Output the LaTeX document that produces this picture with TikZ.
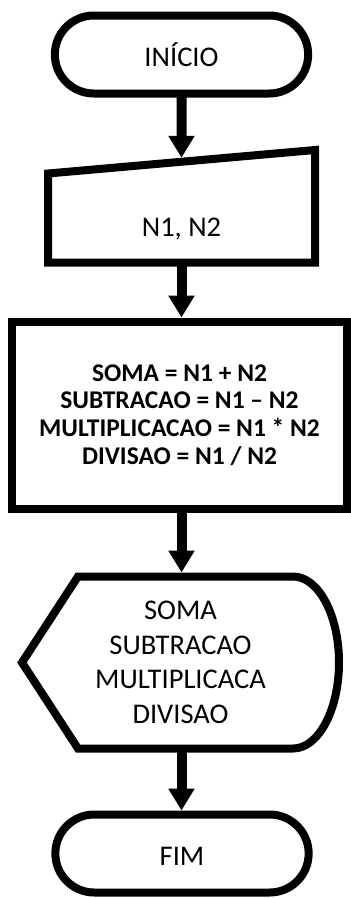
\documentclass[tikz,border=0pt]{standalone}
\usepackage{fontspec}
\setmainfont{Carlito}
\usetikzlibrary{arrows.meta, positioning, shapes.misc, calc}
\tikzset{
  terminal/.style = {rounded rectangle, draw, line width=8pt, outer sep=0pt,
                     minimum width=260pt, minimum height=78pt,
                     text height=24pt, text depth=0pt},
  inputbox/.style = {rectangle, outer sep=0pt, minimum width=267pt,
                     minimum height=89pt, text height=41pt},
  process/.style  = {rectangle, draw, line width=8pt, outer sep=0pt,
                     minimum width=335pt, minimum height=187pt, align=center,
                     font=\bfseries\fontsize{25.5}{27.8}\selectfont},
  display/.style  = {rectangle, outer sep=0pt, minimum width=317pt,
                     minimum height=172pt, align=center},
  outline/.style  = {line width=8pt, line join=miter},
  flow/.style     = {-{Triangle[width=25pt, length=22pt]}, line width=10pt,
                     shorten >=4pt}
}

\begin{document}
\begin{tikzpicture}[x=1pt, y=1pt, font=\fontsize{28.5}{34.5}\selectfont]
  \useasboundingbox (0,0) rectangle (351,-898);

  \node[terminal] (start) at (181.5,-54.5) {INÍCIO};
  \node[inputbox] (inp)   [below=80pt of start] {N1, N2};
  \node[process]  (calc)  [below=59pt of inp, xshift=-2pt]
                  {SOMA = N1 + N2\\SUBTRACAO = N1 – N2\\MULTIPLICACAO = N1 * N2\\DIVISAO = N1 / N2};
  \node[display]  (show)  [below=68pt of calc, xshift=1pt]
                  {SOMA\\SUBTRACAO\\MULTIPLICACA\\DIVISAO};
  \node[terminal] (stop)  [below=66pt of show, xshift=1.5pt] {FIM};

  % manual input and display outlines
  \draw[outline] (inp.south west) -- (inp.south east)
    -- ([yshift=23.5pt]inp.north east) -- (inp.north west) -- cycle;
  \coordinate (inptop) at ($(inp.north west)!0.5!([yshift=23.5pt]inp.north east)$);
  \draw[outline] ([xshift=56pt]show.north west) -- ([xshift=-46pt]show.north east)
    arc[start angle=90, end angle=-90, x radius=46pt, y radius=86pt]
    -- ([xshift=56pt]show.south west) -- (show.west) -- cycle;

  \draw[flow] (start) -- (inptop);
  \draw[flow] (inp) -- (inp |- calc.north);
  \draw[flow] (calc.south -| inp) -- (show.north -| inp);
  \draw[flow] (show.south -| inp) -- (stop.north -| inp);
\end{tikzpicture}
\end{document}
